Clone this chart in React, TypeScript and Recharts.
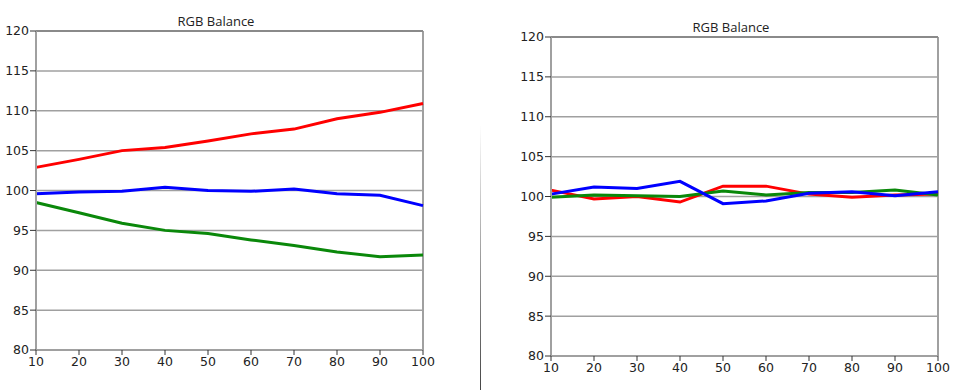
import React from 'react';
import { LineChart, Line, XAxis, YAxis, CartesianGrid, ReferenceLine } from 'recharts';

// shared axes
const levels = [10, 20, 30, 40, 50, 60, 70, 80, 90, 100];
const yTicks = [80, 85, 90, 95, 100, 105, 110, 115, 120];

// left panel (before calibration)
const leftRed = [102.9, 103.9, 105.0, 105.4, 106.2, 107.1, 107.7, 109.0, 109.8, 110.9];
const leftGreen = [98.5, 97.2, 95.9, 95.0, 94.6, 93.8, 93.1, 92.3, 91.7, 91.9];
const leftBlue = [99.6, 99.8, 99.9, 100.4, 100.0, 99.9, 100.2, 99.6, 99.4, 98.1];

// right panel (after calibration)
const rightRed = [100.8, 99.7, 100.0, 99.3, 101.3, 101.3, 100.3, 99.9, 100.2, 100.3];
const rightGreen = [99.9, 100.2, 100.1, 100.0, 100.7, 100.2, 100.5, 100.5, 100.8, 100.2];
const rightBlue = [100.3, 101.2, 101.0, 101.9, 99.1, 99.45, 100.4, 100.6, 100.1, 100.6];

const title = 'RGB Balance';

const toRows = (r: number[], g: number[], b: number[]) =>
  levels.map((lvl, i) => ({ level: lvl, red: r[i], green: g[i], blue: b[i] }));

const FONT = '"DejaVu Sans", sans-serif';
const GRID = '#a0a0a0';
const AXIS = '#a0a0a0';

interface PanelProps {
  rows: { level: number; red: number; green: number; blue: number }[];
  margin: { top: number; right: number; bottom: number; left: number };
}

function Panel({ rows, margin }: PanelProps) {
  const tick = { fill: '#222', fontSize: 12.5, fontFamily: FONT };
  return (
    <LineChart width={486} height={390} data={rows} margin={margin}>
      <CartesianGrid vertical={false} stroke={GRID} strokeWidth={1.5} />
      <XAxis
        dataKey="level"
        type="number"
        domain={[10, 100]}
        ticks={levels}
        stroke={AXIS}
        strokeWidth={2}
        tickSize={5}
        tickMargin={2}
        tickLine={{ stroke: '#333', strokeWidth: 1 }}
        tick={tick}
        height={30}
      />
      <YAxis
        type="number"
        domain={[80, 120]}
        ticks={yTicks}
        stroke={AXIS}
        strokeWidth={2}
        tickSize={6}
        tickMargin={1}
        tickLine={{ stroke: '#333', strokeWidth: 1 }}
        tick={tick}
        width={36}
        interval={0}
      />
      <ReferenceLine x={100} stroke={AXIS} strokeWidth={2} />
      <ReferenceLine y={120} stroke="#8a8a8a" strokeWidth={2} />
      <Line type="linear" dataKey="red" stroke="#ff0000" strokeWidth={3} dot={false} isAnimationActive={false} />
      <Line type="linear" dataKey="green" stroke="#0a880a" strokeWidth={3} dot={false} isAnimationActive={false} />
      <Line type="linear" dataKey="blue" stroke="#0000ff" strokeWidth={3} dot={false} isAnimationActive={false} />
    </LineChart>
  );
}

export default function App() {
  const titleStyle: React.CSSProperties = {
    position: 'absolute',
    fontFamily: '"Open Sans", sans-serif',
    fontSize: 13,
    color: '#222',
    width: 120,
    textAlign: 'center',
    lineHeight: '14px',
  };
  return (
    <div style={{ position: 'absolute', left: 0, top: 0, width: 972, height: 390, background: '#fff' }}>
      <div style={{ position: 'absolute', left: 0, top: 0 }}>
        <Panel rows={toRows(leftRed, leftGreen, leftBlue)} margin={{ top: 31, right: 63, bottom: 10, left: 0 }} />
      </div>
      <div style={{ position: 'absolute', left: 486, top: 0 }}>
        <Panel rows={toRows(rightRed, rightGreen, rightBlue)} margin={{ top: 37, right: 34, bottom: 4, left: 29 }} />
      </div>
      <div style={{ ...titleStyle, left: 216 - 60, top: 14 }}>{title}</div>
      <div style={{ ...titleStyle, left: 731 - 60, top: 20 }}>{title}</div>
      <div
        style={{
          position: 'absolute',
          left: 480,
          top: 125,
          width: 1,
          height: 265,
          background: 'linear-gradient(to bottom, rgba(90,90,90,0), rgba(90,90,90,0.6) 50%, rgba(70,70,70,1))',
        }}
      />
    </div>
  );
}
